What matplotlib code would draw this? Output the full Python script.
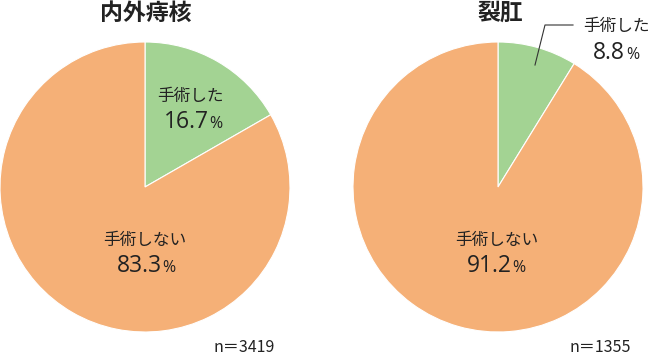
import matplotlib
matplotlib.use("Agg")
import matplotlib.pyplot as plt

plt.rcParams['font.family'] = ['Noto Sans CJK JP', 'DejaVu Sans']

"data"
titles = ["内外痔核", "裂肛"]
labels = ["手術した", "手術しない"]
values_hem = [16.7, 83.3]
values_fis = [8.8, 91.2]
counts = ["n＝3419", "n＝1355"]
colors = ["#a3d393", "#f5b077"]

W, H = 650, 356
fig = plt.figure(figsize=(W / 100, H / 100), dpi=100)
ax = fig.add_axes([0, 0, 1, 1])

R = 145
centers = [(145, H - 187), (498, H - 187)]

for vals, c in zip([values_hem, values_fis], centers):
    ax.pie(vals, colors=colors, startangle=90, counterclock=False,
           center=c, radius=R, frame=True,
           wedgeprops=dict(edgecolor="white", linewidth=0.8))
ax.set_xlim(0, W)
ax.set_ylim(0, H)
ax.set_aspect("equal")
ax.axis("off")

fig.canvas.draw()
renderer = fig.canvas.get_renderer()
txt = "#222222"
num_font = ["Open Sans", "DejaVu Sans"]


def pct(x, y, v):
    "number large, percent sign small"
    t = ax.text(x, y, f"{v:.1f}", fontsize=16.5, family=num_font,
                ha="left", va="baseline", color=txt)
    w = t.get_window_extent(renderer).width
    p = ax.text(x, y, "%", fontsize=11.5, family=num_font,
                ha="left", va="baseline", color=txt)
    pw = p.get_window_extent(renderer).width
    total = w + 1 + pw
    t.set_x(x - total / 2)
    p.set_x(x - total / 2 + w + 1)


ax.text(146, H - 13, titles[0], fontsize=16.5, fontweight="bold", ha="center", va="center", color=txt)
ax.text(501, H - 13, titles[1], fontsize=16.5, fontweight="bold", ha="center", va="center", color=txt)

# left pie
ax.text(190, H - 96, labels[0], fontsize=12, ha="center", va="center", color=txt)
pct(193, H - 128, values_hem[0])
ax.text(145, H - 240, labels[1], fontsize=12, ha="center", va="center", color=txt)
pct(146, H - 272, values_hem[1])

# right pie
ax.text(497, H - 240, labels[1], fontsize=12, ha="center", va="center", color=txt)
pct(496, H - 272, values_fis[1])
ax.text(616, H - 27, labels[0], fontsize=12, ha="center", va="center", color=txt)
pct(616, H - 59, values_fis[0])
ax.plot([535, 545, 573], [H - 65, H - 25, H - 25], color="#333333", lw=0.8)

ax.text(244, H - 348, counts[0], fontsize=11.5, ha="center", va="center", color=txt)
ax.text(600, H - 348, counts[1], fontsize=11.5, ha="center", va="center", color=txt)

fig.savefig("out.png", dpi=100)
